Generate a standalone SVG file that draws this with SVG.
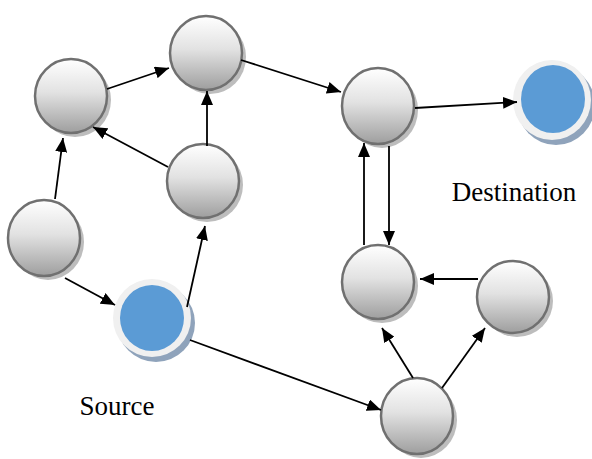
<svg xmlns="http://www.w3.org/2000/svg" width="592" height="459" viewBox="0 0 592 459">
  <defs>
    <linearGradient id="gray" x1="0" y1="0" x2="0" y2="1">
      <stop offset="0" stop-color="#ffffff"/>
      <stop offset="0.45" stop-color="#e2e2e2"/>
      <stop offset="1" stop-color="#9e9e9e"/>
    </linearGradient>
    <marker id="arrow" viewBox="0 0 14 12" refX="14" refY="6" markerWidth="14" markerHeight="12" markerUnits="userSpaceOnUse" orient="auto">
      <path d="M0,0 L14,6 L0,12 Z" fill="#000"/>
    </marker>
  </defs>
  <style>
    .shadow { fill: #bdbdbd; }
    .gray { fill: url(#gray); stroke: #707070; stroke-width: 2.5; }
    .bshadow { fill: #8fa3bb; }
    .ring { fill: #f0f0f0; }
    .blue { fill: #5b9bd5; }
    .edge { stroke: #000; stroke-width: 1.8; fill: none; marker-end: url(#arrow); }
    .label { font-family: "Liberation Serif", "Times New Roman", serif; font-size: 27px; fill: #000; }
  </style>

  <rect width="592" height="459" fill="#fff"/>

  <!-- nodes -->
  <g id="nodeA">
    <ellipse class="shadow" cx="75" cy="100" rx="36" ry="37"/>
    <ellipse class="gray" cx="71" cy="96" rx="36" ry="37"/>
  </g>
  <g id="nodeB">
    <ellipse class="shadow" cx="210" cy="57" rx="36" ry="37"/>
    <ellipse class="gray" cx="206" cy="53" rx="36" ry="37"/>
  </g>
  <g id="nodeC">
    <ellipse class="shadow" cx="382" cy="110" rx="36" ry="38"/>
    <ellipse class="gray" cx="378" cy="106" rx="36" ry="38"/>
  </g>
  <g id="nodeD">
    <ellipse class="shadow" cx="207" cy="185" rx="36" ry="37"/>
    <ellipse class="gray" cx="203" cy="181" rx="36" ry="37"/>
  </g>
  <g id="nodeE">
    <ellipse class="shadow" cx="48" cy="242" rx="36" ry="38"/>
    <ellipse class="gray" cx="44" cy="238" rx="36" ry="38"/>
  </g>
  <g id="nodeF">
    <ellipse class="shadow" cx="382" cy="286" rx="36" ry="37"/>
    <ellipse class="gray" cx="378" cy="282" rx="36" ry="37"/>
  </g>
  <g id="nodeG">
    <ellipse class="shadow" cx="517" cy="301" rx="36" ry="36"/>
    <ellipse class="gray" cx="513" cy="297" rx="36" ry="36"/>
  </g>
  <g id="nodeH">
    <ellipse class="shadow" cx="421" cy="420" rx="36" ry="38"/>
    <ellipse class="gray" cx="417" cy="416" rx="36" ry="38"/>
  </g>
  <g id="source">
    <ellipse class="bshadow" cx="156" cy="323" rx="39" ry="39"/>
    <ellipse class="ring" cx="152" cy="318" rx="39" ry="39"/>
    <ellipse class="blue" cx="152" cy="318" rx="32" ry="33"/>
  </g>
  <g id="destination">
    <ellipse class="bshadow" cx="556" cy="105" rx="39" ry="40"/>
    <ellipse class="ring" cx="552" cy="100" rx="39" ry="40"/>
    <ellipse class="blue" cx="553" cy="99" rx="32" ry="34"/>
  </g>

  <!-- connectors -->
  <g id="edges">
    <line class="edge" x1="55" y1="199" x2="63" y2="138"/>
    <line class="edge" x1="107" y1="89" x2="169" y2="68"/>
    <line class="edge" x1="168" y1="167" x2="93" y2="127"/>
    <line class="edge" x1="207" y1="146" x2="207" y2="91"/>
    <line class="edge" x1="241" y1="60" x2="341" y2="92"/>
    <line class="edge" x1="415" y1="108" x2="517" y2="102"/>
    <line class="edge" x1="65" y1="278" x2="115" y2="305"/>
    <line class="edge" x1="187" y1="307" x2="205" y2="226"/>
    <line class="edge" x1="190" y1="340" x2="381" y2="410"/>
    <line class="edge" x1="364" y1="245" x2="364" y2="143"/>
    <line class="edge" x1="389" y1="146" x2="389" y2="245"/>
    <line class="edge" x1="478" y1="279" x2="420" y2="279"/>
    <line class="edge" x1="413" y1="378" x2="382" y2="328"/>
    <line class="edge" x1="442" y1="388" x2="485" y2="328"/>
  </g>

  <!-- labels -->
  <text class="label" x="117" y="415" text-anchor="middle">Source</text>
  <text class="label" x="514" y="201" text-anchor="middle">Destination</text>
</svg>
